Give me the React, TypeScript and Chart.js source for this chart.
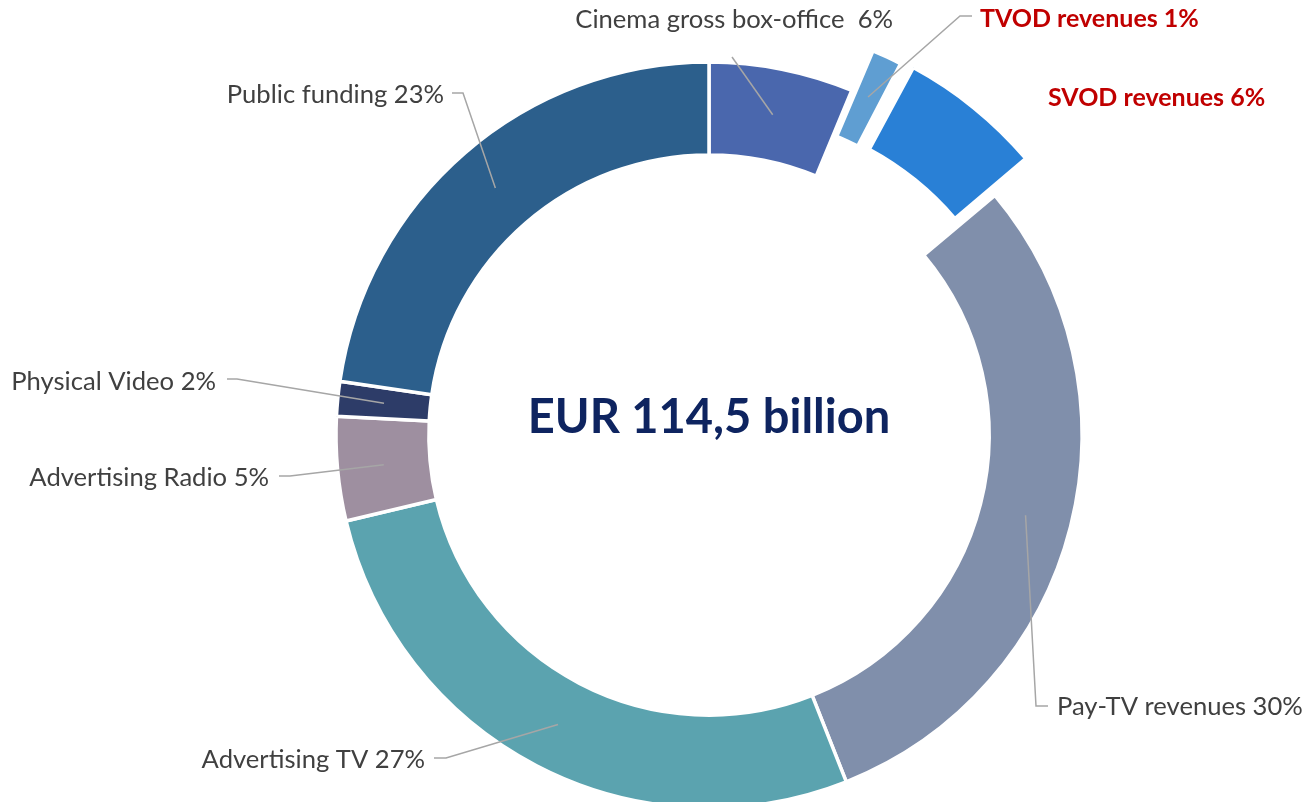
import React, { useEffect, useRef } from 'react';
import { Chart, registerables } from 'chart.js';

Chart.register(...registerables);

// ---- data ----
const categories = [
  'Cinema gross box-office ',
  'TVOD revenues',
  'SVOD revenues',
  'Pay-TV revenues',
  'Advertising TV',
  'Advertising Radio',
  'Physical Video',
  'Public funding',
];
const shareLabels = ['6%', '1%', '6%', '30%', '27%', '5%', '2%', '23%'];
const shares = [6.25, 1.5, 6.15, 30.1, 27.3, 4.5, 1.5, 22.7];
const highlighted = [false, true, true, false, false, false, false, false];
const centerTitle = 'EUR 114,5 billion';

// ---- styles ----
const sliceColors = ['#4a67ad', '#5f9ed2', '#2980d6', '#808fab', '#5ba3af', '#9e8fa0', '#2d3c68', '#2c5f8c'];
const explodeOffsets = [0, 94, 118, 0, 0, 0, 0, 0];

type LabelLayout = { x: number; y: number; align: CanvasTextAlign; leader: [number, number][] };
// label anchor (baseline) and leader-line path from the label side toward the slice
const labelLayout: LabelLayout[] = [
  { x: 893, y: 28, align: 'right', leader: [[732, 57]] },
  { x: 980, y: 27, align: 'left', leader: [[972, 16], [960, 16]] },
  { x: 1048, y: 106, align: 'left', leader: [] },
  { x: 1057, y: 715, align: 'left', leader: [[1048, 706], [1036, 706]] },
  { x: 425, y: 768, align: 'right', leader: [[434, 758], [446, 758]] },
  { x: 269, y: 486, align: 'right', leader: [[279, 476], [290, 476]] },
  { x: 216, y: 390, align: 'right', leader: [[227, 379], [237, 379]] },
  { x: 444, y: 103, align: 'right', leader: [[452, 93], [463, 93]] },
];

const labelsPlugin = {
  id: 'sliceLabels',
  afterDatasetsDraw(chart: any) {
    const ctx: CanvasRenderingContext2D = chart.ctx;
    const meta = chart.getDatasetMeta(0);
    ctx.save();
    meta.data.forEach((arc: any, i: number) => {
      const lay = labelLayout[i];
      if (!lay) return;
      if (lay.leader.length) {
        const c = arc.getCenterPoint();
        ctx.beginPath();
        ctx.strokeStyle = '#a6a6a6';
        ctx.lineWidth = 1.5;
        lay.leader.forEach(([x, y], k) => (k === 0 ? ctx.moveTo(x, y) : ctx.lineTo(x, y)));
        ctx.lineTo(c.x, c.y);
        ctx.stroke();
      }
      const bold = highlighted[i];
      ctx.font = bold ? 'bold 25px Lato' : '25.6px Lato';
      ctx.fillStyle = bold ? '#c00000' : '#404040';
      ctx.textAlign = lay.align;
      ctx.textBaseline = 'alphabetic';
      ctx.fillText(categories[i] + ' ' + shareLabels[i], lay.x, lay.y);
    });
    const first = meta.data[0];
    if (first) {
      ctx.font = 'bold 47px Lato';
      ctx.fillStyle = '#0e2460';
      ctx.textAlign = 'center';
      ctx.textBaseline = 'alphabetic';
      ctx.fillText(centerTitle, first.x, first.y - 2);
    }
    ctx.restore();
  },
};

export default function App() {
  const ref = useRef<HTMLCanvasElement>(null);
  useEffect(() => {
    document.body.style.margin = '0';
    document.body.style.overflow = 'hidden';
    if (!ref.current) return;
    const chart = new Chart(ref.current, {
      type: 'doughnut',
      data: {
        labels: categories,
        datasets: [
          {
            data: shares,
            backgroundColor: sliceColors,
            borderColor: '#ffffff',
            borderWidth: 3.5,
            offset: explodeOffsets,
            hoverOffset: 0,
            clip: false,
          } as any,
        ],
      },
      options: {
        responsive: false,
        animation: false,
        events: [],
        radius: 373,
        cutout: '75.1%',
        layout: { padding: { left: 113, top: 68, right: 0, bottom: 0 } },
        plugins: { legend: { display: false }, tooltip: { enabled: false } },
      } as any,
      plugins: [labelsPlugin],
    });
    return () => chart.destroy();
  }, []);
  return (
    <div style={{ width: 1305, height: 802 }}>
      <canvas ref={ref} width={1305} height={802} style={{ display: 'block' }} />
    </div>
  );
}
